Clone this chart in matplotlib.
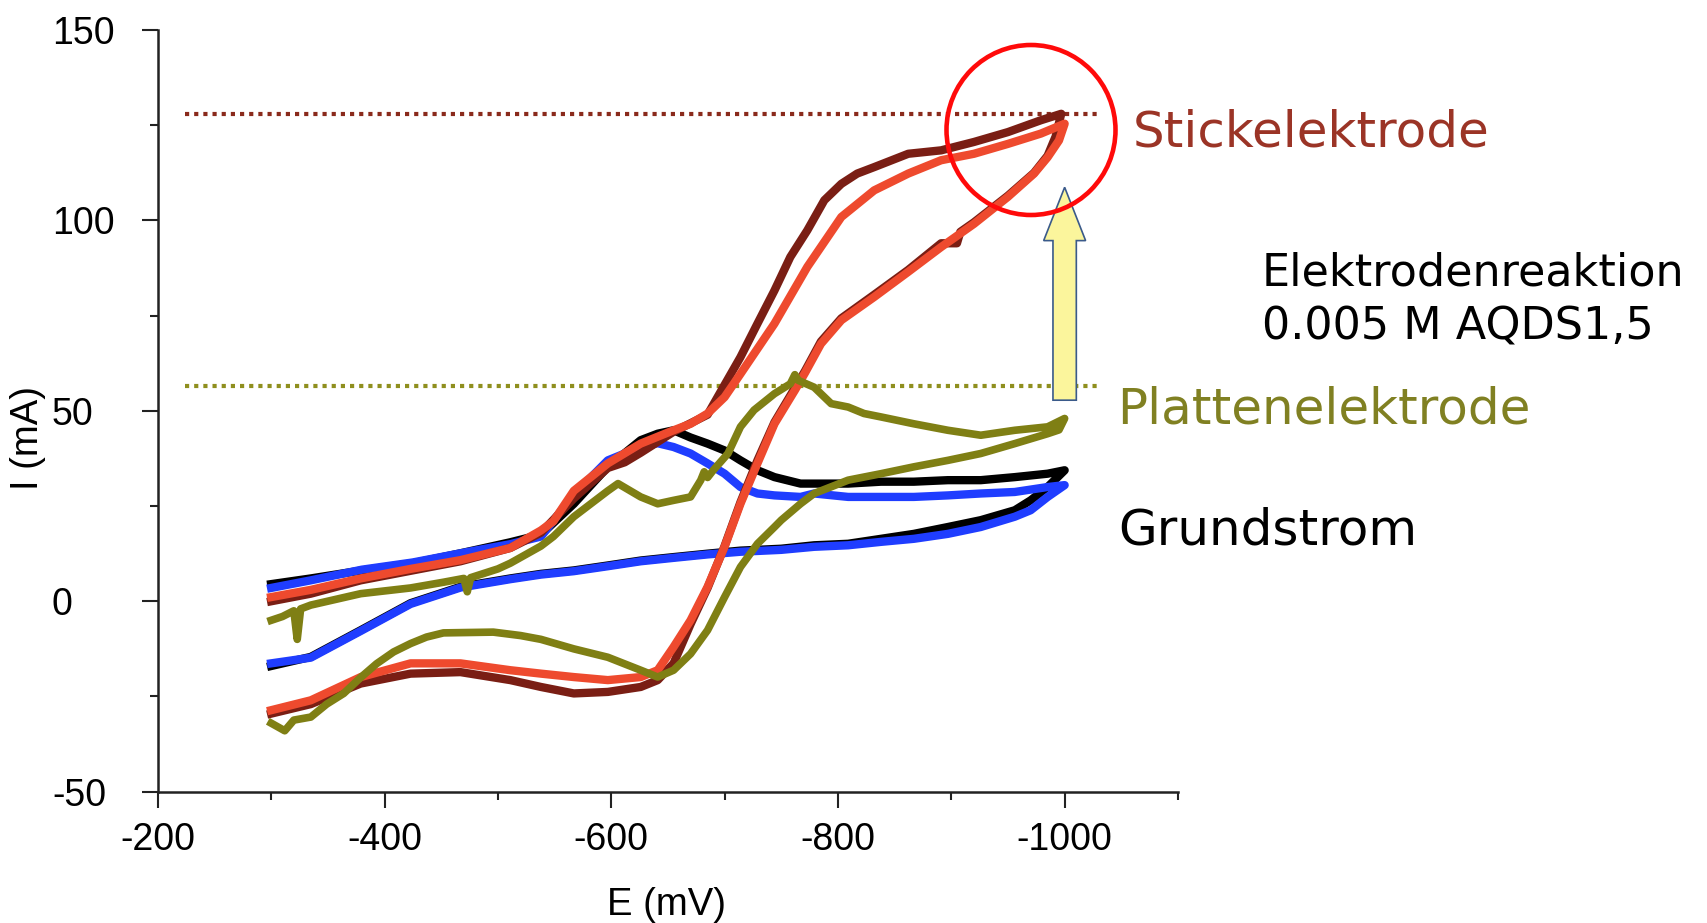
import matplotlib
matplotlib.use("Agg")
import matplotlib.pyplot as plt
from matplotlib.patches import Ellipse, FancyArrow
from matplotlib.ticker import FixedLocator

plt.rcParams['axes.unicode_minus'] = False

# ---------------- data (E in mV, I in mA), forward scan then return ----------------
E_black = [-300, -335, -380, -425, -467, -511, -538, -567, -597, -626, -641, -655, -670, -685,
           -700, -714, -729, -744, -767, -779, -809, -838, -867, -897, -926, -956, -985, -1000,
           -985, -970, -956, -926, -897, -867, -838, -809, -779, -750, -714, -685, -655, -626,
           -597, -567, -538, -511, -467, -423, -379, -335, -300]
I_black = [4.5, 6, 8.1, 10, 12.6, 15.5, 17.5, 25.6, 35.3, 42.3, 44, 44.9, 43, 41.4,
           39.6, 37, 34.4, 32.6, 30.9, 30.9, 30.9, 31.4, 31.4, 31.8, 31.8, 32.6, 33.5, 34.4,
           30, 26.5, 23.9, 21.3, 19.5, 17.7, 16.4, 15.1, 14.7, 13.8, 13.3, 12.5, 11.6, 10.7,
           9.4, 8.1, 7.2, 6, 3.8, -0.5, -7.6, -14.6, -17]

E_blue = [-300, -335, -380, -425, -467, -511, -538, -567, -597, -626, -641, -655, -670, -685,
          -700, -714, -729, -744, -767, -779, -809, -838, -867, -897, -926, -956, -985, -1000,
          -985, -970, -956, -926, -897, -867, -838, -809, -779, -750, -714, -685, -655, -626,
          -597, -567, -538, -511, -467, -423, -379, -335, -300]
I_blue = [3.5, 5.5, 8.3, 10.2, 12.6, 15, 17, 28, 37, 40.5, 41.5, 40.5, 38.8, 36.2,
          33.5, 30, 28.3, 27.8, 27.4, 28.3, 27.4, 27.4, 27.4, 27.8, 28.3, 28.7, 30, 30.5,
          27.4, 23.9, 22.2, 19.5, 17.7, 16.4, 15.6, 14.7, 14.3, 13.5, 13.0, 12.3, 11.4, 10.5,
          9.2, 7.9, 7.0, 5.8, 3.6, -0.7, -7.8, -14.8, -16.3]

E_stick1 = [-300, -335, -379, -423, -467, -511, -538, -567, -597, -612, -626, -655, -685, -694,
            -714, -729, -744, -758, -773, -788, -803, -817, -832, -862, -891, -920, -950, -979, -997,
            -992, -985, -973, -950, -920, -908, -905, -891, -862, -832, -803, -785, -771, -762,
            -744, -729, -714, -700, -685, -670, -655, -641, -626, -597, -567, -538, -511, -467,
            -423, -379, -335, -300]
I_stick1 = [0, 2, 5.5, 8, 10.5, 14, 18, 27, 35, 36.5, 39, 44.5, 49, 53.7,
            64.1, 72.9, 81.6, 90.4, 97.4, 105.3, 109.6, 112.3, 114, 117.5, 118.4, 120.6, 123.2, 126.3, 128,
            122, 117, 112.5, 106.5, 99.5, 97, 94, 94, 87, 80.5, 74.3, 68.2, 60.5, 56,
            47, 37, 26, 14.5, 3.5, -6, -16.3, -20.7, -22.5, -23.8, -24.2, -22.5, -20.7, -18.6,
            -19, -21.6, -27, -29.5]

E_stick2 = [-300, -335, -379, -423, -467, -511, -538, -549, -567, -597, -626, -655, -670, -685,
            -700, -714, -744, -773, -803, -832, -862, -891, -920, -950, -979, -1000,
            -995, -985, -973, -950, -920, -891, -862, -832, -803, -785, -771, -762, -744, -729,
            -714, -700, -685, -670, -655, -641, -626, -597, -567, -538, -511, -467, -423, -379,
            -335, -300]
I_stick2 = [1.1, 3, 6, 8.5, 10.8, 14, 18.6, 21, 29, 36.2, 41.4, 44.9, 46.6, 49.3,
            53.6, 59.7, 72.9, 87.8, 100.9, 107.9, 112.3, 115.8, 117.5, 120.1, 122.8, 125.4,
            121, 116.6, 112.3, 106.2, 99.1, 93, 86.5, 79.9, 73.8, 67.6, 60, 55.4, 46.6, 36.2,
            25.6, 14.3, 3.8, -5, -12, -18.1, -19.9, -20.7, -19.9, -19, -18.1, -16.3, -16.3, -19.9,
            -26, -28.6]

E_platte = [-300, -310, -320, -323, -326, -335, -379, -423, -452, -470, -473, -476, -500, -511,
            -538, -549, -567, -597, -606, -626, -641, -655, -670, -679, -682, -685, -690, -703,
            -714, -726, -744, -758, -762, -765, -779, -794, -809, -823, -838, -867, -897, -926,
            -956, -985, -1000,
            -995, -985, -956, -926, -897, -867, -838, -809, -779, -767, -750, -744, -729, -714,
            -700, -685, -670, -655, -641, -626, -597, -567, -538, -520, -496, -452, -437, -423,
            -408, -393, -379, -364, -349, -335, -320, -312, -300]
I_platte = [-5, -4, -2.5, -10, -2, -1, 2, 3.5, 5, 6, 2.5, 6.2, 8.5, 10,
            14.5, 17, 22.2, 29, 30.9, 27.4, 25.6, 26.5, 27.4, 31.8, 34, 32.5, 34.4, 38.8,
            45.8, 50.2, 54.5, 57.1, 59.5, 58, 56.2, 51.9, 51, 49.3, 48.4, 46.6, 44.9, 43.6,
            44.9, 45.8, 48,
            45, 44, 41.4, 38.8, 37, 35.3, 33.5, 31.8, 28.3, 25.6, 21.3, 19.5, 15.1, 9,
            1.1, -7.6, -13.8, -18.1, -19.9, -18.1, -14.7, -12.5, -10, -9, -8.1, -8.3, -9.4, -11.1,
            -13.3, -16.4, -20, -24.2, -27, -30.4, -31.2, -34, -32]

x_major = [-200, -400, -600, -800, -1000]
x_labels = ["-200", "-400", "-600", "-800", "-1000"]
x_minor = [-300, -500, -700, -900, -1100]
y_major = [-50, 0, 50, 100, 150]
y_labels = ["-50", "0", "50", "100", "150"]
y_minor = [-25, 25, 75, 125]

stick_level = 128
platte_level = 56.5
# ------------------------------------------------------------------------------------

W, H = 1707, 923
fig = plt.figure(figsize=(W / 100, H / 100), dpi=100)
ax = fig.add_axes([157.8 / W, 1 - 791.7 / H, (1178 - 157.8) / W, (791.7 - 30) / H])

ax.set_xlim(-200, -1100)
ax.set_ylim(-50, 150)

lw_curve = 6.0
ax.plot(E_black, I_black, color='#000000', lw=lw_curve, zorder=2, solid_joinstyle='round')
ax.plot(E_blue, I_blue, color='#1F3DFF', lw=lw_curve, zorder=3, solid_joinstyle='round')
ax.plot(E_stick1, I_stick1, color='#7A1E14', lw=lw_curve, zorder=4, solid_joinstyle='round')
ax.plot(E_stick2, I_stick2, color='#EE4A2E', lw=lw_curve, zorder=5, solid_joinstyle='round')
ax.plot(E_platte, I_platte, color='#7F7F14', lw=lw_curve - 0.5, zorder=6, solid_joinstyle='round')

# dotted reference levels
ax.plot([-224, -1030], [stick_level, stick_level], color='#8A2A1C', lw=3.0,
        linestyle=(0, (1, 1.2)), dash_capstyle='butt', zorder=1, clip_on=False)
ax.plot([-224, -1030], [platte_level, platte_level], color='#8F8F1E', lw=3.0,
        linestyle=(0, (1, 1.2)), dash_capstyle='butt', zorder=1, clip_on=False)

# yellow arrow
arr = FancyArrow(-1000, 52.8, 0, 55.9, width=20.6, head_width=37, head_length=14,
                 length_includes_head=True, facecolor='#FBF59C', edgecolor='#3A5A8A',
                 lw=1.2, zorder=7, clip_on=False)
ax.add_patch(arr)

# red circle
circ = Ellipse((1031 / W, 1 - 130 / H), 169 / W, 170 / H, transform=fig.transFigure,
               fill=False, edgecolor='#FF0A0A', lw=3.3, zorder=10)
fig.patches.append(circ)

# axes styling
for s in ['top', 'right']:
    ax.spines[s].set_visible(False)
for s in ['left', 'bottom']:
    ax.spines[s].set_linewidth(1.8)
    ax.spines[s].set_color('#222222')

ax.xaxis.set_major_locator(FixedLocator(x_major))
ax.xaxis.set_minor_locator(FixedLocator(x_minor))
ax.yaxis.set_major_locator(FixedLocator(y_major))
ax.yaxis.set_minor_locator(FixedLocator(y_minor))
ax.set_xticklabels(x_labels)
ax.set_yticklabels(y_labels)

tick_font = 'Liberation Sans'
ax.tick_params(axis='both', which='major', length=11.2, width=1.5, color='#222222',
               labelsize=27, direction='out')
ax.tick_params(axis='both', which='minor', length=6, width=1.5, color='#222222', direction='out')
ax.tick_params(axis='x', which='major', pad=10.4)
ax.tick_params(axis='y', which='major', pad=65)
for lbl in ax.get_xticklabels() + ax.get_yticklabels():
    lbl.set_fontfamily(tick_font)
for t in ax.yaxis.get_major_ticks():
    t.label1.set_horizontalalignment('left')

ax.set_xlabel('E (mV)', fontsize=27.5, fontfamily=tick_font)
ax.xaxis.label.set_verticalalignment('baseline')
ax.xaxis.set_label_coords(0.499, -0.1615)
ax.set_ylabel('I (mA)', fontsize=27.5, fontfamily=tick_font)
ax.yaxis.label.set_verticalalignment('center')
ax.yaxis.set_label_coords(-0.127, 0.465)

# annotations
fig.text(1133 / W, 1 - 146.5 / H, 'Stickelektrode', fontsize=36, color='#9B3426',
         fontfamily='DejaVu Sans', va='baseline', ha='left')
fig.text(1261.5 / W, 1 - 286 / H, 'Elektrodenreaktion', fontsize=32, color='black',
         fontfamily='DejaVu Sans', va='baseline', ha='left')
fig.text(1261.5 / W, 1 - 339 / H, '0.005 M AQDS1,5', fontsize=32, color='black',
         fontfamily='DejaVu Sans', va='baseline', ha='left')
fig.text(1117.5 / W, 1 - 423 / H, 'Plattenelektrode', fontsize=36, color='#808022',
         fontfamily='DejaVu Sans', va='baseline', ha='left')
fig.text(1118.5 / W, 1 - 544.5 / H, 'Grundstrom', fontsize=36, color='black',
         fontfamily='DejaVu Sans', va='baseline', ha='left')

fig.savefig('out.png', dpi=100)
